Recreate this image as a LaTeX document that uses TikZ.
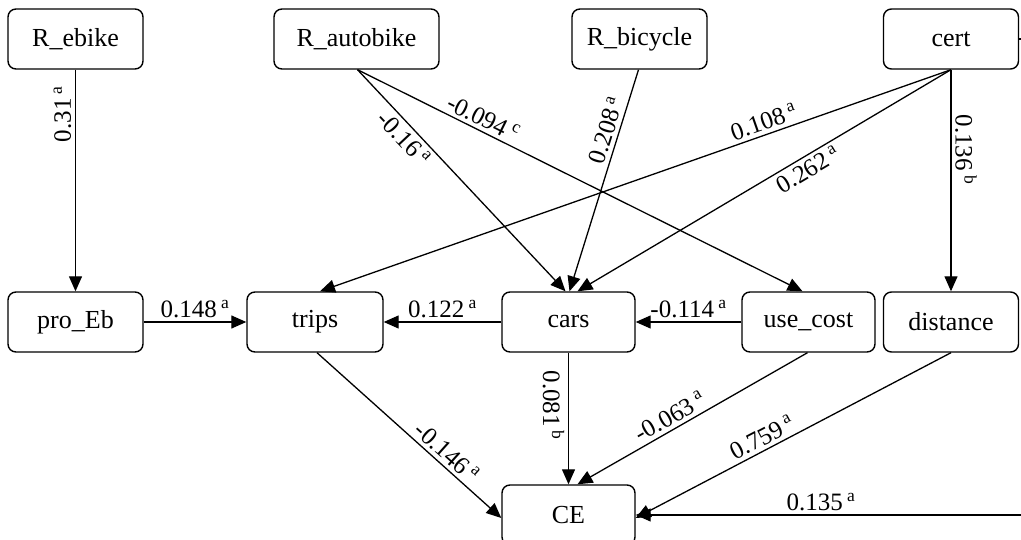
\documentclass[tikz,border=0pt]{standalone}
\usepackage{fontspec}
\setmainfont{Liberation Serif}
\usetikzlibrary{arrows.meta}
\begin{document}
\begin{tikzpicture}[x=1pt,y=-1pt,
  font=\fontsize{26}{31}\selectfont,
  var/.style={draw,line width=1.4pt,rounded corners=8pt,minimum width=135pt,minimum height=60pt,inner sep=2pt},
  path/.style={line width=1.3pt,-{Triangle[length=15pt,width=13pt]}},
  lab/.style={font=\fontsize{25}{30}\selectfont,inner sep=3.5pt}]
\useasboundingbox (0,0) rectangle (1021,540);
\clip (0,0) rectangle (1021,540);
% exogenous variables (top row)
\node[var] (ebike) at (75.5,39) {R\_ebike};
\node[var,minimum width=165pt] (auto) at (356.5,39) {R\_autobike};
\node[var] (bicycle) at (639.5,39) {R\_bicycle};
\node[var] (cert) at (951,39) {cert};
% mediators (middle row)
\node[var] (proeb) at (75.5,322) {pro\_Eb};
\node[var,minimum width=136pt] (trips) at (315,322) {trips};
\node[var,minimum width=133pt] (cars) at (568.5,322) {cars};
\node[var,minimum width=133pt] (cost) at (808.5,322) {use\_cost};
\node[var] (dist) at (951,322) {distance};
% outcome
\node[var,minimum width=133pt] (ce) at (568.5,515) {CE};
% paths
\draw[path] (ebike.south) -- node[lab,rotate=90,anchor=south,pos=0.2] {0.31\,\textsuperscript{a}} (proeb.north);
\draw[path] ([xshift=1pt]auto.south) -- node[lab,sloped,below,pos=0.27] {-0.16\,\textsuperscript{a}} ([xshift=-3pt]cars.north);
\draw[path] ([xshift=1pt]auto.south) -- node[lab,sloped,above,pos=0.27] {-0.094\,\textsuperscript{c}} ([xshift=-6pt]cost.north);
\draw[path] ([xshift=-1pt]bicycle.south) -- node[lab,sloped,above,pos=0.29] {0.208\,\textsuperscript{a}} ([xshift=1pt]cars.north);
\draw[path] (cert.south) -- node[lab,sloped,above,pos=0.29] {0.108\,\textsuperscript{a}} ([xshift=5pt]trips.north);
\draw[path] (cert.south) -- node[lab,sloped,below,pos=0.4] {0.262\,\textsuperscript{a}} ([xshift=9pt]cars.north);
\draw[path] (cert.south) -- node[lab,rotate=-90,anchor=south,pos=0.36] {0.136\,\textsuperscript{b}} (dist.north);
\draw[path] (proeb.east) -- node[lab,above] {0.148\,\textsuperscript{a}} (trips.west);
\draw[path] (cars.west) -- node[lab,above] {0.122\,\textsuperscript{a}} (trips.east);
\draw[path] (cost.west) -- node[lab,above] {-0.114\,\textsuperscript{a}} (cars.east);
\draw[path] ([xshift=2pt]trips.south) -- node[lab,sloped,above,pos=0.66] {-0.146\,\textsuperscript{a}} ([yshift=-3pt]ce.west);
\draw[path] (cars.south) -- node[lab,rotate=-90,anchor=north,pos=0.4] {0.081\,\textsuperscript{b}} (ce.north);
\draw[path] ([xshift=-1pt]cost.south) -- node[lab,sloped,above,pos=0.57] {-0.063\,\textsuperscript{a}} ([xshift=9pt]ce.north);
\draw[path] (dist.south) -- node[lab,sloped,above,pos=0.58] {0.759\,\textsuperscript{a}} ([yshift=-3pt]ce.east);
\draw[path] (cert.east) -- ++(30,0) |- node[lab,above,pos=0.776] {0.135\,\textsuperscript{a}} (ce.east);
\end{tikzpicture}
\end{document}
